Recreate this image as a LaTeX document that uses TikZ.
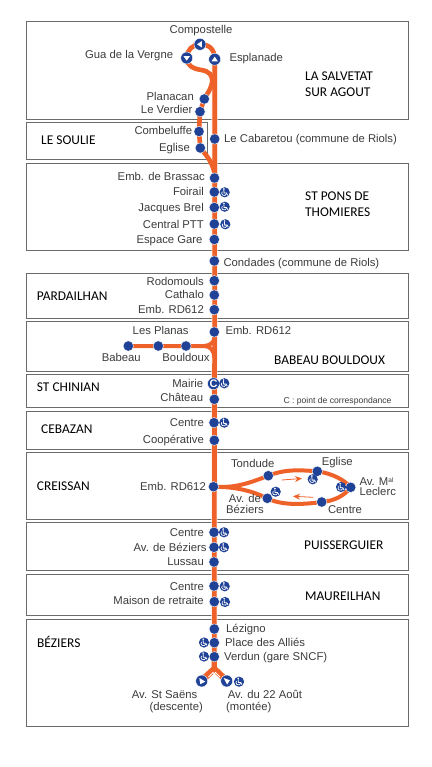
\documentclass[tikz,border=0pt]{standalone}
\usepackage{fontspec}
\setmainfont{Liberation Sans}
\newfontfamily\regionfont{Carlito}
\usetikzlibrary{backgrounds,arrows.meta}
\definecolor{lineor}{HTML}{EE6229}
\definecolor{stopbl}{HTML}{1F4296}
\definecolor{labgr}{HTML}{3C3C3C}
\definecolor{boxgr}{HTML}{6A6A6A}
\tikzset{
  regionbox/.style={draw=boxgr,line width=0.9pt,fill=white},
  route/.style={draw=lineor,line width=4.6pt},
  halo/.style={draw=white!85!lineor,line width=6pt},
  branch/.style={draw=lineor,line width=4pt},
  stopnode/.style={circle,fill=stopbl,draw=white,line width=0.4pt,minimum size=10.4pt,inner sep=0pt},
  corrnode/.style={stopnode,minimum size=12pt,text=white,font=\fontsize{11}{11}\selectfont\bfseries},
  term/.style={circle,fill=stopbl,draw=white,line width=0.4pt,minimum size=12pt,inner sep=0pt},
  lab/.style={inner sep=0pt,text=labgr,font=\fontsize{11.3}{12}\selectfont},
  labr/.style={lab,anchor=base east},
  labl/.style={lab,anchor=base west},
  labc/.style={lab,anchor=base},
  region/.style={inner sep=0pt,anchor=base west,text=black,font=\regionfont\fontsize{13.4}{14}\selectfont},
  tiny/.style={inner sep=0pt,anchor=base west,text=labgr,font=\fontsize{8.6}{9}\selectfont},
  flowarrow/.style={draw=lineor,line width=0.8pt,-{Stealth[length=7pt,width=6pt]}},
  wheel/.pic={
    \fill[stopbl] (0,0) circle (5.1pt);
    \fill[white] (-0.8,-3.3) circle (0.95pt);
    \draw[white,line width=0.8pt] (-0.9,-2.2) -- (-0.6,0.8) -- (1.8,0.8) -- (3,3);
    \draw[white,line width=0.7pt] (-2.44,-0.64) arc[start angle=140,end angle=340,radius=2.4pt];
  },
  tridown/.pic={\fill[white] (-3.2,-1.8) -- (3.2,-1.8) -- (0,2.6) -- cycle;},
  triup/.pic={\fill[white] (-3.2,2) -- (3.2,2) -- (0,-2.6) -- cycle;},
  trileft/.pic={\fill[white] (-3,0) -- (1.8,-3.2) -- (1.8,3.2) -- cycle;},
  triright/.pic={\fill[white] (3.6,0.6) -- (-2.4,-3) -- (-1.4,3.2) -- cycle;},
  tririghttwo/.pic={\fill[white] (3.2,-0.8) -- (-3,-3) -- (0.4,3.6) -- cycle;},
}
\begin{document}
\begin{tikzpicture}[x=1pt,y=-1pt]
\useasboundingbox (0,0) rectangle (431,767);
% stops
\node[term] (compostelle) at (200,44.3) {};
\node[term] (vergne) at (186.7,58) {};
\node[term] (esplanade) at (214.7,59.3) {};
\pic at (compostelle) {trileft};
\pic at (vergne) {tridown};
\pic at (esplanade) {triup};
\node[stopnode] (planacan) at (204.3,99) {};
\node[stopnode] (verdier) at (200,111.7) {};
\node[stopnode] (combeluffe) at (199,131.5) {};
\node[stopnode] (eglisea) at (200.3,148) {};
\node[stopnode] (cabaretou) at (214.7,139) {};
\node[stopnode] (brassac) at (214.5,178) {};
\node[stopnode] (foirail) at (214.3,192) {};
\node[stopnode] (brel) at (214.3,207.5) {};
\node[stopnode] (ptt) at (214.3,224) {};
\node[stopnode] (gare) at (214.3,239.5) {};
\node[stopnode] (condades) at (214.3,261) {};
\node[stopnode] (rodomouls) at (214.3,280.7) {};
\node[stopnode] (cathalo) at (214.3,295) {};
\node[stopnode] (rda) at (214.3,309.7) {};
\node[stopnode] (rdb) at (214.3,332) {};
\node[stopnode] (babeau) at (128.3,346) {};
\node[stopnode] (planas) at (158.3,346) {};
\node[stopnode] (bouldoux) at (186,346) {};
\node[corrnode] (mairie) at (213.5,383.7) {C};
\node[stopnode] (chateau) at (214.3,399.3) {};
\node[stopnode] (cebcentre) at (214,422.7) {};
\node[stopnode] (coop) at (214.3,440.3) {};
\node[stopnode] (rdc) at (213.5,486.7) {};
\node[stopnode] (tondude) at (268.3,475.7) {};
\node[stopnode] (eglisec) at (317.3,471.3) {};
\node[stopnode] (leclerc) at (350.7,487.3) {};
\node[stopnode] (crcentre) at (321.7,502) {};
\node[stopnode] (avbez) at (267.3,498.3) {};
\node[stopnode] (pucentre) at (214,532.3) {};
\node[stopnode] (puav) at (214,547.3) {};
\node[stopnode] (lussau) at (214,562) {};
\node[stopnode] (macentre) at (214,586) {};
\node[stopnode] (maison) at (214.3,601.7) {};
\node[stopnode] (lezigno) at (214.3,629) {};
\node[stopnode] (place) at (214.3,642.7) {};
\node[stopnode] (verdun) at (214.3,656.7) {};
\node[term] (saens) at (201.7,681) {};
\node[term] (aout) at (226.7,681) {};
\pic at (saens) {triright};
\pic at (aout) {tririghttwo};
\coordinate (arrowaa) at (281.7,480);
\coordinate (arrowab) at (302,478.5);
\coordinate (arrowba) at (313.3,497.3);
\coordinate (arrowbb) at (293,496.3);
\coordinate (joinb) at (214.3,338);
\coordinate (joinc) at (214.3,358);
% wheelchair icons
\foreach \x/\y in {224.7/192.3,224.7/206.7,225.3/224.3,224.3/383.3,224.3/422.7,
  312.7/479.3,341/487,275.7/491.7,224/532.3,224/547.3,224.7/586.3,225/602,
  204/642.5,204/656.5,239/681.7}
  \pic at (\x,\y) {wheel};
% everything behind the stops
\begin{scope}[on background layer]
  \draw[regionbox] (26,21) rectangle (408,119);
  \draw[regionbox] (26,122.5) rectangle (207,159);
  \draw[regionbox] (26,163.5) rectangle (408,250);
  \draw[regionbox] (26,273.7) rectangle (408,318);
  \draw[regionbox] (26,321.7) rectangle (408,371.7);
  \draw[regionbox] (26,374) rectangle (408,407);
  \draw[regionbox] (26,411) rectangle (408,449);
  \draw[regionbox] (26,452.7) rectangle (408,519);
  \draw[regionbox] (26,522) rectangle (408,570);
  \draw[regionbox] (26,574) rectangle (408,615.3);
  \draw[regionbox] (26,619.3) rectangle (408,726);
  % main line with its pale edge
  \draw[halo] (esplanade.center) -- (verdun.center);
  \draw[route] (esplanade.center) -- (214.7,180) -- (verdun.center);
  % loop at the top and the second branch
  \draw[route] (esplanade.center) .. controls (214.7,48) and (208,44.3) .. (compostelle.center)
     .. controls (193,44.3) and (186.7,50) .. (vergne.center)
     .. controls (186.7,66) and (194,69) .. (201,70)
     .. controls (209,71) and (213,75) .. (212,83)
     .. controls (211,89) and (207,94) .. (planacan.center)
     -- (verdier.center) -- (combeluffe.center) -- (eglisea.center)
     .. controls (207,156) and (212,162) .. (214.3,172);
  % Babeau branch
  \draw[branch] (babeau.center) -- (bouldoux.center) -- (204,346) .. controls (210,346) and (214.3,342) .. (joinb);
  \draw[branch] (joinc) .. controls (214.3,350) and (210,346) .. (204,346);
  % Creissan loop
  \draw[branch] (rdc.center) .. controls (232,488) and (245,485) .. (tondude.center)
     .. controls (285,469) and (300,470) .. (eglisec.center)
     .. controls (334,474) and (344,480) .. (leclerc.center)
     .. controls (345,495) and (335,501) .. (crcentre.center)
     .. controls (300,505) and (280,505) .. (avbez.center)
     .. controls (250,490) and (235,487) .. (rdc.center);
  % fork
  \fill[lineor] (211.7,655) -- (216.9,655) -- (216.9,667) -- (229,678.5) -- (225,683) -- (214.3,673) -- (204,683) -- (199,678.5) -- (211.7,667) -- cycle;
\end{scope}
\draw[white,line width=0.9pt] (208.5,677) -- (213,672.5) -- (214.3,673.8) -- (215.6,672.5) -- (220,677);
% flow arrows
\draw[flowarrow] (arrowaa) -- (arrowab);
\draw[flowarrow] (arrowba) -- (arrowbb);
% stop labels
\node[labc] (tcompostelle) at (201,33.3) {Compostelle};
\node[labr] (tvergne) at (173.3,59) {Gua de la Vergne};
\node[labl] (tesplanade) at (229.3,61.7) {Esplanade};
\node[labr] (tplanacan) at (194,101) {Planacan};
\node[labr] (tverdier) at (192.7,114) {Le Verdier};
\node[labr] (tcombeluffe) at (192.3,135) {Combeluffe};
\node[labr] (teglisea) at (190,151.7) {Eglise};
\node[labl] (tcabaretou) at (224,142.3) {Le Cabaretou (commune de Riols)};
\node[labr] (tbrassac) at (205,180.7) {Emb. de Brassac};
\node[labr] (tfoirail) at (204,195.3) {Foirail};
\node[labr] (tbrel) at (204,211.7) {Jacques Brel};
\node[labr] (tptt) at (204,228.3) {Central PTT};
\node[labr] (tgare) at (202.7,243) {Espace Gare};
\node[labl] (tcondades) at (223.3,266) {Condades (commune de Riols)};
\node[labr] (trodomouls) at (204,285.7) {Rodomouls};
\node[labr] (tcathalo) at (204,298.7) {Cathalo};
\node[labr] (trda) at (204,313.7) {Emb. RD612};
\node[labc] (tplanas) at (160.7,334.7) {Les Planas};
\node[labl] (trdb) at (225.3,334.7) {Emb. RD612};
\node[labc] (tbabeau) at (121.3,361.7) {Babeau};
\node[labc] (tbouldoux) at (186,361.7) {Bouldoux};
\node[labr] (tmairie) at (203.3,387.3) {Mairie};
\node[labr] (tchateau) at (203.3,401.7) {Château};
\node[labr] (tcebcentre) at (204,426.7) {Centre};
\node[labr] (tcoop) at (204,443.3) {Coopérative};
\node[labr] (trdc) at (206,490) {Emb. RD612};
\node[labc] (ttondude) at (252.7,467.7) {Tondude};
\node[labc] (teglisec) at (337.3,465.7) {Eglise};
\node[labl] (tleclerca) at (359.3,485) {Av. M\raisebox{3pt}{\fontsize{6.5}{6.5}\selectfont al}};
\node[labl] (tleclercb) at (359.3,495) {Leclerc};
\node[labc] (tavbeza) at (245,502.8) {Av. de};
\node[labc] (tavbezb) at (245,513.6) {Béziers};
\node[labc] (tcrcentre) at (345,513.3) {Centre};
\node[labr] (tpucentre) at (204,536) {Centre};
\node[labr] (tpuav) at (206.7,551) {Av. de Béziers};
\node[labr] (tlussau) at (204,565) {Lussau};
\node[labr] (tmacentre) at (204,590) {Centre};
\node[labr] (tmaison) at (204,604.3) {Maison de retraite};
\node[labl] (tlezigno) at (226,632.7) {Lézigno};
\node[labl] (tplace) at (225,646) {Place des Alliés};
\node[labl] (tverdun) at (224,660) {Verdun (gare SNCF)};
\node[labl] (tsaensa) at (131.7,698.3) {Av. St Saëns};
\node[labl] (tsaensb) at (149.3,710) {(descente)};
\node[labl] (taouta) at (227.7,698.3) {Av. du 22 Août};
\node[labl] (taoutb) at (226,710) {(montée)};
% region labels
\node[region] (rsalvetat) at (305,81) {LA SALVETAT};
\node[region] (ragout) at (305,97) {SUR AGOUT};
\node[region] (rsoulie) at (41,144.3) {LE SOULIE};
\node[region] (rpons) at (305,200.7) {ST PONS DE};
\node[region] (rthom) at (305,216.7) {THOMIERES};
\node[region] (rpard) at (36.7,300) {PARDAILHAN};
\node[region] (rbabeau) at (274,364) {BABEAU BOULDOUX};
\node[region] (rchinian) at (36.7,391.7) {ST CHINIAN};
\node[region] (rcebazan) at (41,433.3) {CEBAZAN};
\node[region] (rcreissan) at (36.7,490) {CREISSAN};
\node[region] (rpuiss) at (304,549.3) {PUISSERGUIER};
\node[region] (rmaur) at (305,600.3) {MAUREILHAN};
\node[region] (rbez) at (37,647.7) {BÉZIERS};
\node[tiny] (tcorr) at (283.3,403.3) {C : point de correspondance};
\end{tikzpicture}
\end{document}
